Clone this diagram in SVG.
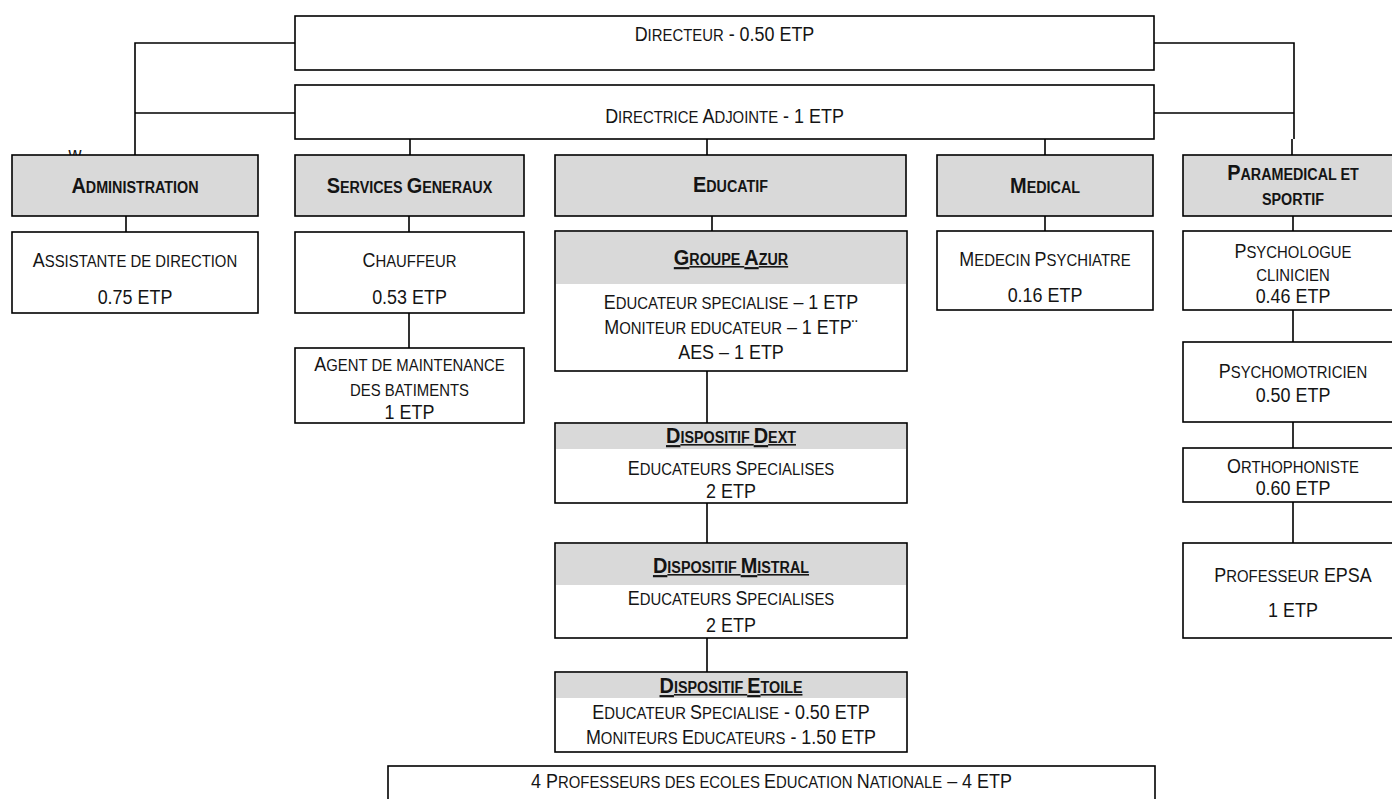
<svg xmlns="http://www.w3.org/2000/svg" width="1392" height="799" viewBox="0 0 1392 799">
  <style>
    .box { fill: #ffffff; stroke: #000000; stroke-width: 1.6; }
    .hd { fill: #d9d9d9; stroke: #000000; stroke-width: 1.6; }
    .band { fill: #d9d9d9; stroke: none; }
    .links { fill: none; stroke: #000000; stroke-width: 1.6; }
    text { font-family: "Liberation Sans", Arial, sans-serif; fill: #141414; text-anchor: middle; font-size: 19.5px;
           transform-box: fill-box; transform-origin: center; transform: scaleX(0.92); }
    .s { font-size: 16.2px; }
    .b { font-weight: bold; font-size: 21.7px; }
    .b .s { font-size: 15.6px; }
    .u { text-decoration: underline; }
  </style>

  <!-- connectors -->
  <g id="connectors" class="links">
    <path d="M295,43 H135 V155 M295,113 H135"/>
    <path d="M1154,43 H1294 V139 M1154,113 H1294 M1292,139 V155"/>
    <path d="M410,139 V155 M707,139 V155 M1045,139 V155"/>
    <path d="M126,216 V232 M409,216 V232 M409,313 V348"/>
    <path d="M712,216 V231 M707,371 V423 M707,503 V543 M707,638 V672"/>
    <path d="M1045,216 V231"/>
    <path d="M1293,216 V231 M1293,310 V342 M1293,422 V448 M1293,502 V543"/>
  </g>

  <g id="directeur">
    <rect class="box" x="295" y="16" width="859" height="54"/>
    <text x="724.5" y="41">D<tspan class="s">IRECTEUR</tspan> - 0.50 ETP</text>
  </g>

  <g id="directrice-adjointe">
    <rect class="box" x="295" y="85" width="859" height="54"/>
    <text x="724.5" y="123">D<tspan class="s">IRECTRICE </tspan>A<tspan class="s">DJOINTE</tspan> - 1 ETP</text>
  </g>

  <text x="75" y="161">w</text>

  <g id="administration">
    <rect class="hd" x="12" y="155" width="246" height="61"/>
    <text class="b" x="135" y="193">A<tspan class="s">DMINISTRATION</tspan></text>
  </g>

  <g id="services-generaux">
    <rect class="hd" x="295" y="155" width="229" height="61"/>
    <text class="b" x="409.5" y="193">S<tspan class="s">ERVICES </tspan>G<tspan class="s">ENERAUX</tspan></text>
  </g>

  <g id="educatif">
    <rect class="hd" x="555" y="155" width="351" height="61"/>
    <text class="b" x="730.5" y="192">E<tspan class="s">DUCATIF</tspan></text>
  </g>

  <g id="medical">
    <rect class="hd" x="937" y="155" width="216" height="61"/>
    <text class="b" x="1045" y="193">M<tspan class="s">EDICAL</tspan></text>
  </g>

  <g id="paramedical">
    <rect class="hd" x="1183" y="155" width="220" height="61"/>
    <text class="b" x="1293" y="180">P<tspan class="s">ARAMEDICAL ET</tspan></text>
    <text class="b" x="1293" y="205"><tspan class="s">SPORTIF</tspan></text>
  </g>

  <g id="assistante">
    <rect class="box" x="12" y="232" width="246" height="81"/>
    <text x="135" y="267">A<tspan class="s">SSISTANTE DE DIRECTION</tspan></text>
    <text x="135" y="304">0.75 ETP</text>
  </g>

  <g id="chauffeur">
    <rect class="box" x="295" y="232" width="229" height="81"/>
    <text x="409.5" y="267">C<tspan class="s">HAUFFEUR</tspan></text>
    <text x="409.5" y="304">0.53 ETP</text>
  </g>

  <g id="agent-maintenance">
    <rect class="box" x="295" y="348" width="229" height="75"/>
    <text x="409.5" y="371">A<tspan class="s">GENT DE MAINTENANCE</tspan></text>
    <text x="409.5" y="396"><tspan class="s">DES BATIMENTS</tspan></text>
    <text x="409.5" y="419">1 ETP</text>
  </g>

  <g id="groupe-azur">
    <rect class="box" x="555" y="231" width="352" height="140"/>
    <rect class="band" x="556" y="232" width="350" height="52"/>
    <text class="b u" x="731" y="265">G<tspan class="s">ROUPE </tspan>A<tspan class="s">ZUR</tspan></text>
    <text x="731" y="309">E<tspan class="s">DUCATEUR SPECIALISE</tspan> – 1 ETP</text>
    <text x="731" y="334">M<tspan class="s">ONITEUR EDUCATEUR</tspan> – 1 ETP¨</text>
    <text x="731" y="359">AES – 1 ETP</text>
  </g>

  <g id="dispositif-dext">
    <rect class="box" x="555" y="423" width="352" height="80"/>
    <rect class="band" x="556" y="424" width="350" height="25"/>
    <text class="b u" x="731" y="443">D<tspan class="s">ISPOSITIF </tspan>D<tspan class="s">EXT</tspan></text>
    <text x="731" y="475">E<tspan class="s">DUCATEURS </tspan>S<tspan class="s">PECIALISES</tspan></text>
    <text x="731" y="498">2 ETP</text>
  </g>

  <g id="dispositif-mistral">
    <rect class="box" x="555" y="543" width="352" height="95"/>
    <rect class="band" x="556" y="544" width="350" height="41"/>
    <text class="b u" x="731" y="573">D<tspan class="s">ISPOSITIF </tspan>M<tspan class="s">ISTRAL</tspan></text>
    <text x="731" y="605">E<tspan class="s">DUCATEURS </tspan>S<tspan class="s">PECIALISES</tspan></text>
    <text x="731" y="632">2 ETP</text>
  </g>

  <g id="dispositif-etoile">
    <rect class="box" x="555" y="672" width="352" height="80"/>
    <rect class="band" x="556" y="673" width="350" height="25"/>
    <text class="b u" x="731" y="693">D<tspan class="s">ISPOSITIF </tspan>E<tspan class="s">TOILE</tspan></text>
    <text x="731" y="719">E<tspan class="s">DUCATEUR </tspan>S<tspan class="s">PECIALISE</tspan> - 0.50 ETP</text>
    <text x="731" y="744">M<tspan class="s">ONITEURS </tspan>E<tspan class="s">DUCATEURS</tspan> - 1.50 ETP</text>
  </g>

  <g id="medecin">
    <rect class="box" x="937" y="231" width="216" height="79"/>
    <text x="1045" y="266">M<tspan class="s">EDECIN </tspan>P<tspan class="s">SYCHIATRE</tspan></text>
    <text x="1045" y="302">0.16 ETP</text>
  </g>

  <g id="psychologue">
    <rect class="box" x="1183" y="231" width="220" height="79"/>
    <text x="1293" y="258">P<tspan class="s">SYCHOLOGUE</tspan></text>
    <text x="1293" y="281"><tspan class="s">CLINICIEN</tspan></text>
    <text x="1293" y="303">0.46 ETP</text>
  </g>

  <g id="psychomotricien">
    <rect class="box" x="1183" y="342" width="220" height="80"/>
    <text x="1293" y="378">P<tspan class="s">SYCHOMOTRICIEN</tspan></text>
    <text x="1293" y="402">0.50 ETP</text>
  </g>

  <g id="orthophoniste">
    <rect class="box" x="1183" y="448" width="220" height="54"/>
    <text x="1293" y="473">O<tspan class="s">RTHOPHONISTE</tspan></text>
    <text x="1293" y="495">0.60 ETP</text>
  </g>

  <g id="professeur-epsa">
    <rect class="box" x="1183" y="543" width="220" height="95"/>
    <text x="1293" y="582">P<tspan class="s">ROFESSEUR</tspan> EPSA</text>
    <text x="1293" y="617">1 ETP</text>
  </g>

  <g id="education-nationale">
    <rect class="box" x="388" y="766" width="767" height="50"/>
    <text x="771.5" y="788">4 P<tspan class="s">ROFESSEURS DES ECOLES </tspan>E<tspan class="s">DUCATION </tspan>N<tspan class="s">ATIONALE</tspan> – 4 ETP</text>
  </g>
</svg>
